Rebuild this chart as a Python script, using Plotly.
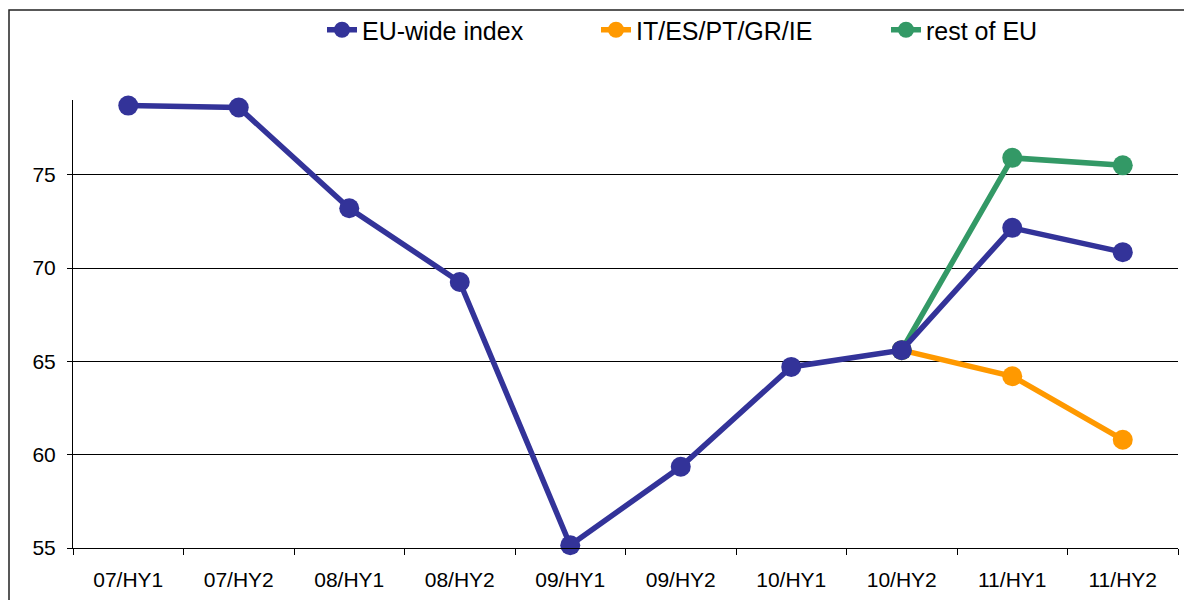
import plotly.graph_objects as go

categories = ["07/HY1", "07/HY2", "08/HY1", "08/HY2", "09/HY1", "09/HY2",
              "10/HY1", "10/HY2", "11/HY1", "11/HY2"]
eu_wide = [78.7, 78.6, 73.2, 69.25, 55.15, 59.35, 64.7, 65.6, 72.15, 70.85]
south = [None, None, None, None, None, None, None, 65.6, 64.2, 60.8]
rest_eu = [None, None, None, None, None, None, None, 65.6, 75.9, 75.5]
y_ticks = [55, 60, 65, 70, 75]

FONT = "Liberation Sans, Arial, sans-serif"

# page is offset by the 8px body margin; figure coords = page coords - 8
W, H = 1184, 592
L, R, T, B = 65, 14, 92, 52
PW, PH = W - L - R, H - T - B


def px_to_paper_x(page_x):
    return (page_x - 8 - L) / PW


def px_to_paper_y(page_y):
    return (H - B - (page_y - 8)) / PH


def px_to_cont_x(page_x):
    return (page_x - 8) / W


def px_to_cont_y(page_y):
    return 1 - (page_y - 8) / H


fig = go.Figure()
fig.add_trace(go.Scatter(x=categories, y=south, name="IT/ES/PT/GR/IE",
                         mode="lines+markers", legend="legend2", cliponaxis=False,
                         line=dict(color="#FF9900", width=5.5),
                         marker=dict(size=20, color="#FF9900")))
fig.add_trace(go.Scatter(x=categories, y=rest_eu, name="rest of EU",
                         mode="lines+markers", legend="legend3", cliponaxis=False,
                         line=dict(color="#339966", width=5.5),
                         marker=dict(size=20, color="#339966")))
fig.add_trace(go.Scatter(x=categories, y=eu_wide, name="EU-wide index",
                         mode="lines+markers", legend="legend", cliponaxis=False,
                         line=dict(color="#333399", width=5.5),
                         marker=dict(size=20, color="#333399")))

leg_common = dict(orientation="h", xanchor="left", yanchor="middle",
                  xref="container", yref="container",
                  y=px_to_cont_y(30), font=dict(size=25, family=FONT),
                  bgcolor="rgba(0,0,0,0)")

fig.update_layout(
    width=W, height=H,
    margin=dict(l=L, r=R, t=T, b=B, autoexpand=False),
    paper_bgcolor="white", plot_bgcolor="white",
    font=dict(family=FONT, color="black", size=21),
    showlegend=True,
    legend=dict(x=px_to_cont_x(322), **leg_common),
    legend2=dict(x=px_to_cont_x(596), **leg_common),
    legend3=dict(x=px_to_cont_x(886), **leg_common),
    xaxis=dict(type="category", range=[-0.5, 9.5], showline=True,
               linecolor="black", linewidth=1,
               ticks="outside", tickson="boundaries", ticklen=6, tickcolor="black",
               showgrid=False, zeroline=False, tickfont=dict(size=21),
               ticklabelstandoff=13),
    yaxis=dict(range=[55, 79], tickvals=y_ticks, showline=True, linecolor="black",
               linewidth=1, ticks="outside", ticklen=5, tickcolor="black",
               showgrid=True, gridcolor="black", gridwidth=1, zeroline=False,
               tickfont=dict(size=21), ticklabelstandoff=7),
    shapes=[dict(type="rect", xref="paper", yref="paper",
                 x0=px_to_paper_x(9), x1=1.05, y0=-0.3, y1=px_to_paper_y(10),
                 line=dict(color="#222222", width=1.5), layer="below")],
)

fig.write_html("out.html")
